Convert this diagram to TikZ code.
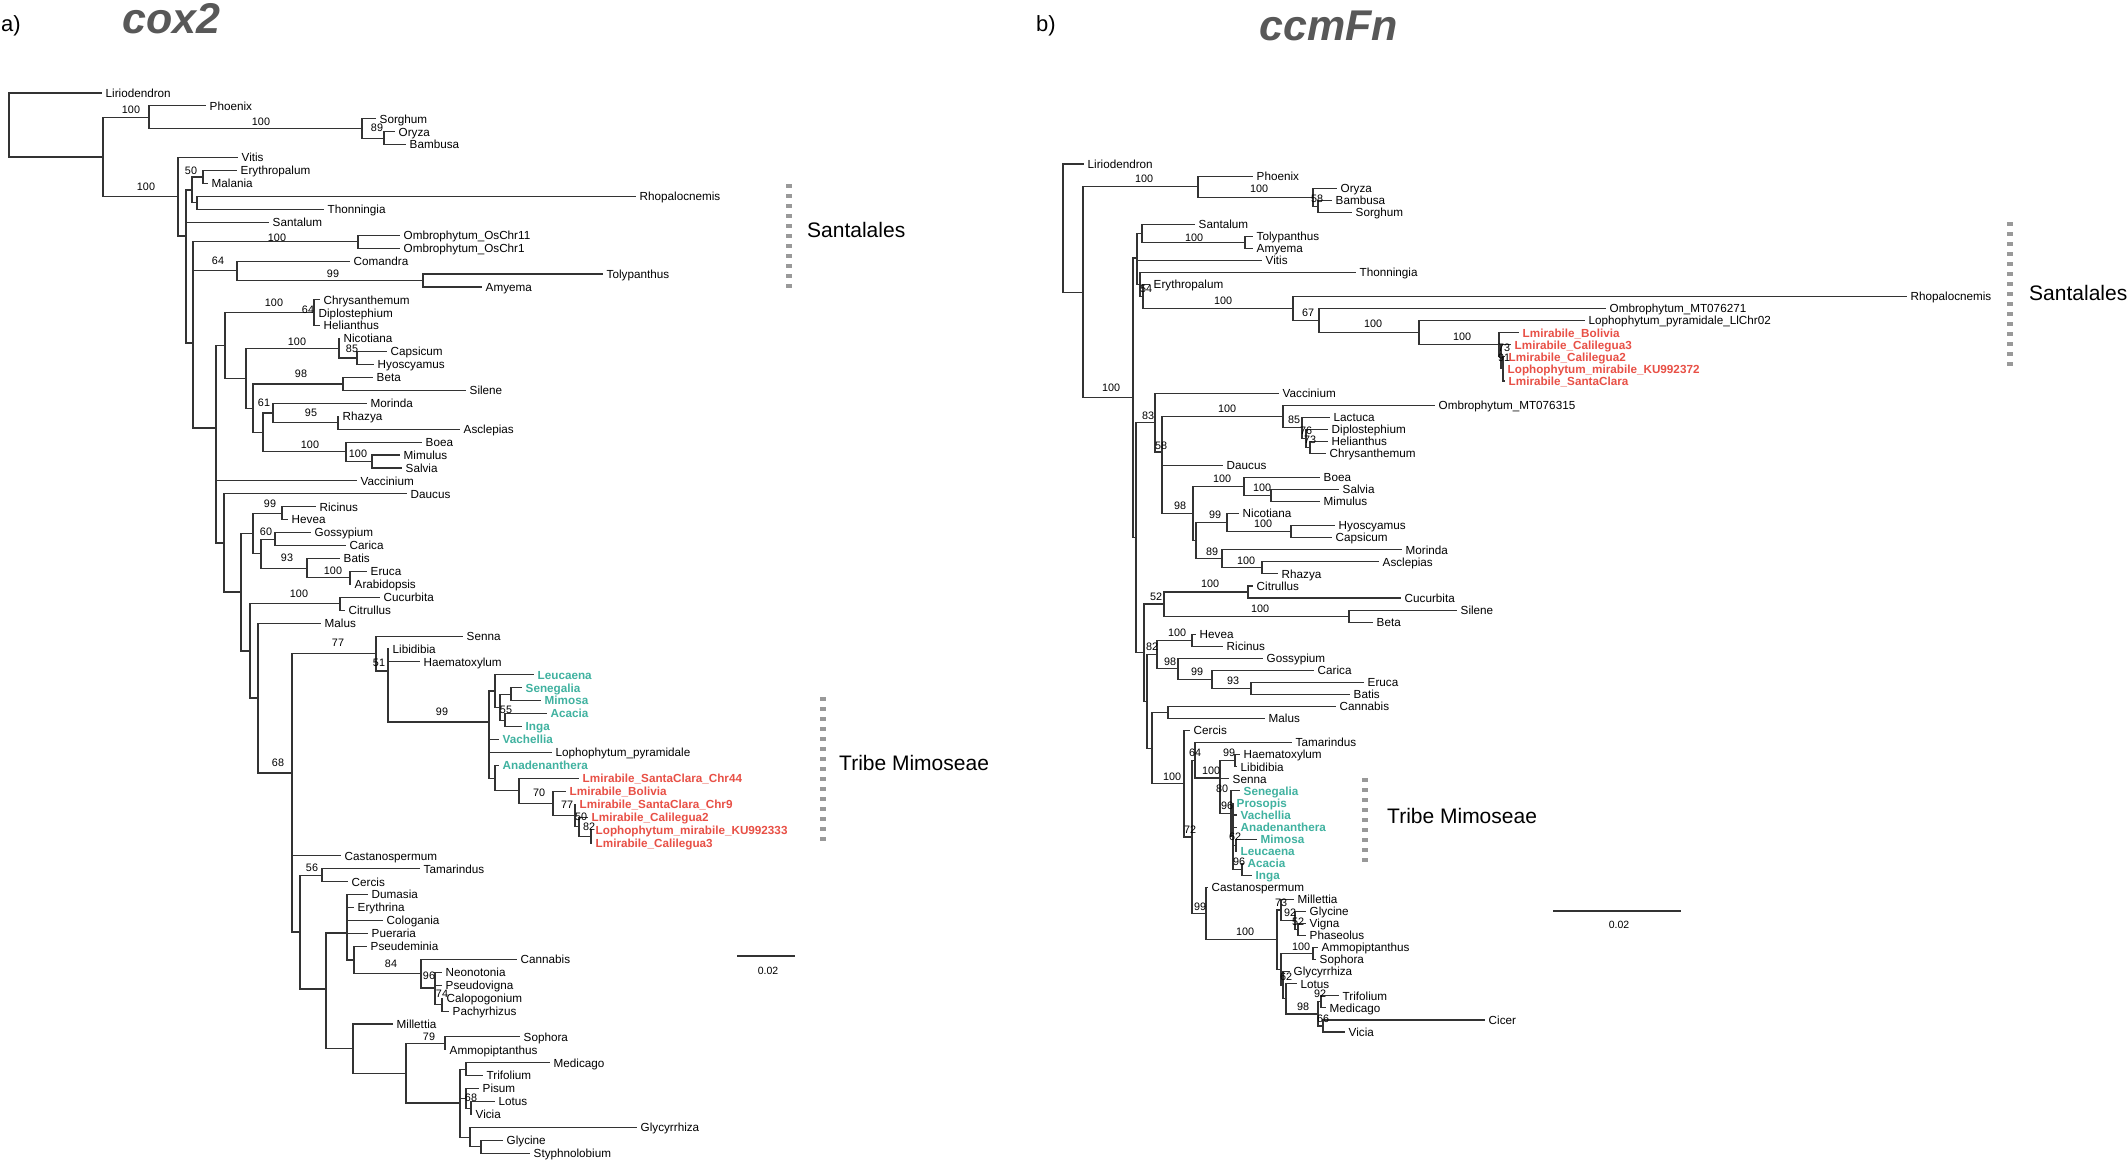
\documentclass[tikz,border=0pt]{standalone}
\usepackage{fontspec}
\setmainfont{Liberation Sans}
\definecolor{mimo}{RGB}{64,178,160}
\definecolor{lmir}{RGB}{232,80,70}
\definecolor{ttl}{RGB}{88,88,88}
\newcommand\tipfont{\fontsize{11.7}{13}\selectfont}
\newcommand\bootfont{\fontsize{10.8}{12}\selectfont}
\newcommand\cladefont{\fontsize{21}{24}\selectfont}
\newcommand\ttlfont{\fontsize{43}{48}\selectfont\bfseries\itshape}
\newcommand\panelfont{\fontsize{22}{24}\selectfont}
\newcommand\sbarfont{\fontsize{10.5}{12}\selectfont}
\begin{document}
\begin{tikzpicture}[x=1pt,y=-1pt,
  br/.style={draw=black!80, line width=1.15pt},
  tip/.style={anchor=west, inner xsep=3.5pt, inner ysep=0pt, text height=8.4pt, text depth=0pt, font=\tipfont},
  tipm/.style={tip, text=mimo, font=\tipfont\bfseries},
  tipr/.style={tip, text=lmir, font=\tipfont\bfseries},
  boot/.style={inner sep=0pt, text height=7.7pt, text depth=0pt, font=\bootfont},
  cladebar/.style={draw=black!40, line width=5.5pt, dash pattern=on 4pt off 6pt},
  cladelab/.style={anchor=west, inner sep=0pt, font=\cladefont},
  ttlnode/.style={anchor=base west, inner sep=0pt, text=ttl, font=\ttlfont},
  panel/.style={anchor=base west, inner sep=0pt, font=\panelfont}]
\fill[white] (0,0) rectangle (2128,1162);
\useasboundingbox (0,0) rectangle (2128,1162);

% ---------- headings ----------
\node[panel] (pa) at (1,31) {a)};
\node[panel] (pb) at (1036,31) {b)};
\node[ttlnode] (t1) at (122,33) {cox2};
\node[ttlnode] (t2) at (1259,40) {ccmFn};

% ================= LEFT TREE (cox2) =================
\coordinate (L0) at (9,125);
\coordinate (LA) at (103,157);
\coordinate (LB) at (149,117.2);
\coordinate (LC) at (362,128.6);
\coordinate (LD) at (384,138.3);
\coordinate (LE) at (178,196.8);
\coordinate (LF) at (186,236);
\coordinate (LI) at (192,190);
\coordinate (LH) at (203,177);
\coordinate (LJ) at (197,202.9);
\coordinate (LG) at (193,343);
\coordinate (LK) at (358,241.7);
\coordinate (LL) at (237,270.8);
\coordinate (LM) at (423,280.5);
\coordinate (LZ) at (216,428);
\coordinate (LO) at (225,345.6);
\coordinate (LN) at (314,312.8);
\coordinate (LP) at (246,378.3);
\coordinate (LQ) at (339,348.4);
\coordinate (LR) at (357,358);
\coordinate (LS) at (253,408.2);
\coordinate (LU) at (343,384);
\coordinate (LT) at (263,432.4);
\coordinate (LV) at (273,413);
\coordinate (LW) at (338,422.8);
\coordinate (LX) at (346,451.8);
\coordinate (LY) at (372,461.5);
\coordinate (LAA) at (224,543);
\coordinate (LAB) at (241,592);
\coordinate (LAC) at (253,533.4);
\coordinate (LAE) at (282,513.2);
\coordinate (LAF) at (261,553.6);
\coordinate (LAG) at (275,539.1);
\coordinate (LAH) at (307,568.2);
\coordinate (LAI) at (350,577.9);
\coordinate (LAD) at (250,651);
\coordinate (LAJ) at (340,603.7);
\coordinate (LAK) at (258,698);
\coordinate (LAL) at (292,773);
\coordinate (LAN) at (376,653.5);
\coordinate (LAO) at (388,671);
\coordinate (LAP) at (489,722);
\coordinate (LAQ) at (495,691);
\coordinate (LAR) at (500,707.2);
\coordinate (LAS) at (511,694.3);
\coordinate (LAT) at (505,720.1);
\coordinate (LAU) at (495,778.1);
\coordinate (LAV) at (519,790.8);
\coordinate (LAW) at (553,803.4);
\coordinate (LAX) at (575,815.5);
\coordinate (LAY) at (579,826.8);
\coordinate (LAZ) at (591,836.5);
\coordinate (LAM) at (300,932);
\coordinate (L56) at (322,875.3);
\coordinate (LAN2) at (326,989);
\coordinate (LAO2) at (347,933);
\coordinate (LPs) at (354,960);
\coordinate (L84) at (421,973.7);
\coordinate (L96) at (435,988);
\coordinate (L74) at (442,1004.6);
\coordinate (LAP2) at (353,1048.6);
\coordinate (LAQ2) at (406,1073.3);
\coordinate (L79) at (445,1043.4);
\coordinate (LAR2) at (460,1103);
\coordinate (LMT) at (466,1069.3);
\coordinate (LPLV) at (466,1098.4);
\coordinate (L68) at (471,1108.1);
\coordinate (LGG) at (470,1137.1);
\coordinate (LGS) at (481,1146.9);

\node[tip] (lir) at (102,93) {Liriodendron};
\node[tip] (phoe) at (206,105.9) {Phoenix};
\node[tip] (sorg) at (376,118.9) {Sorghum};
\node[tip] (oryz) at (395,131.8) {Oryza};
\node[tip] (bamb) at (406,144.7) {Bambusa};
\node[tip] (vitis) at (238,157.6) {Vitis};
\node[tip] (eryth) at (237,170.6) {Erythropalum};
\node[tip] (malan) at (208,183.5) {Malania};
\node[tip] (rhopa) at (636,196.4) {Rhopalocnemis};
\node[tip] (thonn) at (324,209.4) {Thonningia};
\node[tip] (santa) at (269,222.3) {Santalum};
\node[tip] (om11) at (400,235.2) {Ombrophytum\_OsChr11};
\node[tip] (om1) at (400,248.2) {Ombrophytum\_OsChr1};
\node[tip] (coma) at (350,261.1) {Comandra};
\node[tip] (toly) at (603,274) {Tolypanthus};
\node[tip] (amye) at (482,287) {Amyema};
\node[tip] (chry) at (320,299.9) {Chrysanthemum};
\node[tip] (dipl) at (315,312.8) {Diplostephium};
\node[tip] (heli) at (320,325.7) {Helianthus};
\node[tip] (nico) at (340,338.7) {Nicotiana};
\node[tip] (caps) at (387,351.6) {Capsicum};
\node[tip] (hyos) at (374,364.5) {Hyoscyamus};
\node[tip] (beta) at (373,377.5) {Beta};
\node[tip] (sile) at (466,390.4) {Silene};
\node[tip] (mori) at (367,403.3) {Morinda};
\node[tip] (rhaz) at (339,416.3) {Rhazya};
\node[tip] (ascl) at (460,429.2) {Asclepias};
\node[tip] (boea) at (422,442.1) {Boea};
\node[tip] (mimu) at (400,455) {Mimulus};
\node[tip] (salv) at (402,468) {Salvia};
\node[tip] (vacc) at (357,480.9) {Vaccinium};
\node[tip] (dauc) at (407,493.8) {Daucus};
\node[tip] (rici) at (316,506.8) {Ricinus};
\node[tip] (heve) at (288,519.7) {Hevea};
\node[tip] (goss) at (311,532.6) {Gossypium};
\node[tip] (cari) at (346,545.6) {Carica};
\node[tip] (bati) at (340,558.5) {Batis};
\node[tip] (eruc) at (367,571.4) {Eruca};
\node[tip] (arab) at (351,584.3) {Arabidopsis};
\node[tip] (cucu) at (380,597.3) {Cucurbita};
\node[tip] (citr) at (345,610.2) {Citrullus};
\node[tip] (malu) at (321,623.1) {Malus};
\node[tip] (senn) at (463,636.1) {Senna};
\node[tip] (libi) at (389,649) {Libidibia};
\node[tip] (haem) at (420,661.9) {Haematoxylum};
\node[tipm] (leuc) at (534,674.9) {Leucaena};
\node[tipm] (sene) at (522,687.8) {Senegalia};
\node[tipm] (mimo) at (541,700.7) {Mimosa};
\node[tipm] (acac) at (547,713.7) {Acacia};
\node[tipm] (inga) at (522,726.6) {Inga};
\node[tipm] (vach) at (499,739.5) {Vachellia};
\node[tip] (lpyr) at (552,752.4) {Lophophytum\_pyramidale};
\node[tipm] (anad) at (499,765.4) {Anadenanthera};
\node[tipr] (sc44) at (579,778.3) {Lmirabile\_SantaClara\_Chr44};
\node[tipr] (boli) at (566,791.2) {Lmirabile\_Bolivia};
\node[tipr] (chr9) at (576,804.2) {Lmirabile\_SantaClara\_Chr9};
\node[tipr] (cal2) at (588,817.1) {Lmirabile\_Calilegua2};
\node[tipr] (ku33) at (592,830) {Lophophytum\_mirabile\_KU992333};
\node[tipr] (cal3) at (592,843) {Lmirabile\_Calilegua3};
\node[tip] (cast) at (341,855.9) {Castanospermum};
\node[tip] (tama) at (420,868.8) {Tamarindus};
\node[tip] (cerc) at (348,881.8) {Cercis};
\node[tip] (duma) at (368,894.7) {Dumasia};
\node[tip] (eryt) at (354,907.6) {Erythrina};
\node[tip] (colo) at (383,920.5) {Cologania};
\node[tip] (puer) at (368,933.5) {Pueraria};
\node[tip] (pseu) at (367,946.4) {Pseudeminia};
\node[tip] (cann) at (517,959.3) {Cannabis};
\node[tip] (neon) at (442,972.3) {Neonotonia};
\node[tip] (pvig) at (442,985.2) {Pseudovigna};
\node[tip] (calo) at (443,998.1) {Calopogonium};
\node[tip] (pach) at (449,1011.1) {Pachyrhizus};
\node[tip] (mill) at (393,1024) {Millettia};
\node[tip] (soph) at (520,1036.9) {Sophora};
\node[tip] (ammo) at (446,1049.9) {Ammopiptanthus};
\node[tip] (medi) at (550,1062.8) {Medicago};
\node[tip] (trif) at (483,1075.7) {Trifolium};
\node[tip] (pisu) at (479,1088.6) {Pisum};
\node[tip] (lotu) at (495,1101.6) {Lotus};
\node[tip] (vici) at (472,1114.5) {Vicia};
\node[tip] (glyc) at (637,1127.4) {Glycyrrhiza};
\node[tip] (glyn) at (503,1140.4) {Glycine};
\node[tip] (styp) at (530,1153.3) {Styphnolobium};

\draw[br]
 (L0) |- (lir.west) (L0) |- (LA)
 (LA) |- (LB) (LA) |- (LE)
 (LB) |- (phoe.west) (LB) |- (LC)
 (LC) |- (sorg.west) (LC) |- (LD)
 (LD) |- (oryz.west) (LD) |- (bamb.west)
 (LE) |- (vitis.west) (LE) |- (LF)
 (LF) |- (LI) (LF) |- (santa.west) (LF) |- (LG)
 (LI) |- (LH) (LI) |- (LJ)
 (LH) |- (eryth.west) (LH) |- (malan.west)
 (LJ) |- (rhopa.west) (LJ) |- (thonn.west)
 (LG) |- (LK) (LG) |- (LL) (LG) |- (LZ)
 (LK) |- (om11.west) (LK) |- (om1.west)
 (LL) |- (coma.west) (LL) |- (LM)
 (LM) |- (toly.west) (LM) |- (amye.west)
 (LZ) |- (LO) (LZ) |- (vacc.west) (LZ) |- (LAA)
 (LO) |- (LN) (LO) |- (LP)
 (LN) |- (chry.west) (LN) |- (dipl.west) (LN) |- (heli.west)
 (LP) |- (LQ) (LP) |- (LS)
 (LQ) |- (nico.west) (LQ) |- (LR)
 (LR) |- (caps.west) (LR) |- (hyos.west)
 (LS) |- (LU) (LS) |- (LT)
 (LU) |- (beta.west) (LU) |- (sile.west)
 (LT) |- (LV) (LT) |- (LX)
 (LV) |- (mori.west) (LV) |- (LW)
 (LW) |- (rhaz.west) (LW) |- (ascl.west)
 (LX) |- (boea.west) (LX) |- (LY)
 (LY) |- (mimu.west) (LY) |- (salv.west)
 (LAA) |- (dauc.west) (LAA) |- (LAB)
 (LAB) |- (LAC) (LAB) |- (LAD)
 (LAC) |- (LAE) (LAC) |- (LAF)
 (LAE) |- (rici.west) (LAE) |- (heve.west)
 (LAF) |- (LAG) (LAF) |- (LAH)
 (LAG) |- (goss.west) (LAG) |- (cari.west)
 (LAH) |- (bati.west) (LAH) |- (LAI)
 (LAI) |- (eruc.west) (LAI) |- (arab.west)
 (LAD) |- (LAJ) (LAD) |- (LAK)
 (LAJ) |- (cucu.west) (LAJ) |- (citr.west)
 (LAK) |- (malu.west) (LAK) |- (LAL)
 (LAL) |- (LAN) (LAL) |- (cast.west) (LAL) |- (LAM)
 (LAN) |- (senn.west) (LAN) |- (LAO)
 (LAO) |- (libi.west) (LAO) |- (haem.west) (LAO) |- (LAP)
 (LAP) |- (LAQ) (LAP) |- (vach.west) (LAP) |- (lpyr.west) (LAP) |- (LAU)
 (LAQ) |- (leuc.west) (LAQ) |- (LAR)
 (LAR) |- (LAS) (LAR) |- (LAT)
 (LAS) |- (sene.west) (LAS) |- (mimo.west)
 (LAT) |- (acac.west) (LAT) |- (inga.west)
 (LAU) |- (anad.west) (LAU) |- (LAV)
 (LAV) |- (sc44.west) (LAV) |- (LAW)
 (LAW) |- (boli.west) (LAW) |- (LAX)
 (LAX) |- (chr9.west) (LAX) |- (LAY)
 (LAY) |- (cal2.west) (LAY) |- (LAZ)
 (LAZ) |- (ku33.west) (LAZ) |- (cal3.west)
 (LAM) |- (L56) (LAM) |- (LAN2)
 (L56) |- (tama.west) (L56) |- (cerc.west)
 (LAN2) |- (LAO2) (LAN2) |- (LAP2)
 (LAO2) |- (duma.west) (LAO2) |- (eryt.west) (LAO2) |- (colo.west) (LAO2) |- (puer.west) (LAO2) |- (LPs)
 (LPs) |- (pseu.west) (LPs) |- (L84)
 (L84) |- (cann.west) (L84) |- (L96)
 (L96) |- (neon.west) (L96) |- (pvig.west) (L96) |- (L74)
 (L74) |- (calo.west) (L74) |- (pach.west)
 (LAP2) |- (mill.west) (LAP2) |- (LAQ2)
 (LAQ2) |- (L79) (LAQ2) |- (LAR2)
 (L79) |- (soph.west) (L79) |- (ammo.west)
 (LAR2) |- (LMT) (LAR2) |- (LPLV) (LAR2) |- (LGG)
 (LMT) |- (medi.west) (LMT) |- (trif.west)
 (LPLV) |- (pisu.west) (LPLV) |- (L68)
 (L68) |- (lotu.west) (L68) |- (vici.west)
 (LGG) |- (glyc.west) (LGG) |- (LGS)
 (LGS) |- (glyn.west) (LGS) |- (styp.west);

\foreach \bx/\by/\bt [count=\bi] in {131/110/100, 261/122/100, 377/128/89, 146/187/100, 191/171/50,
  277/238/100, 218/261/64, 333/274/99, 274/303/100, 308/310/64, 297/342/100, 352/349/85, 301/374/98,
  264/403/61, 311/413/95, 310/445/100, 358/454/100, 270/504/99, 266/532/60, 287/558/93, 333/571/100,
  299/594/100, 338/643/77, 379/663/51, 442/712/99, 506/710/55, 278/763/68, 539/793/70, 567/805/77,
  581/817/50, 589/827/82, 312/868/56, 391/964/84, 429/976/96, 442/994/74, 429/1037/79, 471/1098/68}
  \node[boot] (bl\bi) at (\bx,\by) {\bt};

\draw[cladebar] (789,184) -- (789,289);
\node[cladelab] (cl1) at (807,230) {Santalales};
\draw[cladebar] (823,697) -- (823,845);
\node[cladelab] (cl2) at (839,763) {Tribe Mimoseae};
\coordinate (sbl1) at (737,956);
\coordinate (sbl2) at (795,956);
\draw[br] (sbl1) -- (sbl2);
\node[inner sep=0pt, font=\sbarfont] (sbt1) at (768,971) {0.02};

% ================= RIGHT TREE (ccmFn) =================
\coordinate (R0) at (1063,228);
\coordinate (RA) at (1083,292.3);
\coordinate (RB) at (1198,186.6);
\coordinate (RC) at (1313,197.2);
\coordinate (RD) at (1318,206.2);
\coordinate (RE) at (1133,397.9);
\coordinate (RS) at (1137,258);
\coordinate (S1) at (1142,233.3);
\coordinate (RTA) at (1245,242.4);
\coordinate (S2) at (1140,284.6);
\coordinate (E54) at (1143,296.6);
\coordinate (RG) at (1293,308.7);
\coordinate (RH) at (1319,320.7);
\coordinate (RI) at (1419,332.8);
\coordinate (RJ) at (1499,344.8);
\coordinate (RJ2) at (1501,356.9);
\coordinate (RJ3) at (1503,368.9);
\coordinate (RF) at (1136,537.7);
\coordinate (R83) at (1155,422.6);
\coordinate (R58) at (1162,452);
\coordinate (RL) at (1283,416.4);
\coordinate (RM) at (1302,427.7);
\coordinate (RM2) at (1306,438.3);
\coordinate (RM3) at (1310,447.3);
\coordinate (R98) at (1193,513.7);
\coordinate (RN) at (1244,486.5);
\coordinate (RO) at (1271,495.6);
\coordinate (RP) at (1196,540.8);
\coordinate (RQ) at (1227,522.7);
\coordinate (RR) at (1291,531.7);
\coordinate (RS2) at (1222,558.8);
\coordinate (RT) at (1262,567.9);
\coordinate (RU) at (1144,652.7);
\coordinate (R52) at (1164,604);
\coordinate (RCC) at (1248,592);
\coordinate (RSB) at (1349,616.1);
\coordinate (RU2) at (1147,701.4);
\coordinate (R82) at (1157,654.5);
\coordinate (RHR) at (1192,640.2);
\coordinate (R98b) at (1178,668.8);
\coordinate (R99) at (1212,679.4);
\coordinate (R93) at (1251,688.4);
\coordinate (RV) at (1152,748.2);
\coordinate (RCM) at (1168,712.6);
\coordinate (RW) at (1184,783.8);
\coordinate (RX) at (1192,837);
\coordinate (R64) at (1195,760.4);
\coordinate (R100) at (1220,778);
\coordinate (RHL) at (1235,760.8);
\coordinate (R80) at (1231,813.5);
\coordinate (R96a) at (1233,836);
\coordinate (R62) at (1236,845.1);
\coordinate (R96) at (1242,869.3);
\coordinate (R99b) at (1206,913.5);
\coordinate (R100b) at (1277,939.8);
\coordinate (R73) at (1281,910);
\coordinate (R92) at (1295,920.5);
\coordinate (R52b) at (1298,929.6);
\coordinate (RB2) at (1281,969.5);
\coordinate (RAS) at (1313,953.7);
\coordinate (R62b) at (1283,985.3);
\coordinate (RLX) at (1286,998.9);
\coordinate (R98c) at (1318,1014);
\coordinate (RTM) at (1321,1001.9);
\coordinate (RCV) at (1323,1026);

\node[tip] (rlir) at (1084,164) {Liriodendron};
\node[tip] (rphoe) at (1253,176.1) {Phoenix};
\node[tip] (roryz) at (1337,188.1) {Oryza};
\node[tip] (rbamb) at (1332,200.2) {Bambusa};
\node[tip] (rsorg) at (1352,212.2) {Sorghum};
\node[tip] (rsant) at (1195,224.3) {Santalum};
\node[tip] (rtoly) at (1253,236.3) {Tolypanthus};
\node[tip] (ramye) at (1253,248.4) {Amyema};
\node[tip] (rvitis) at (1262,260.4) {Vitis};
\node[tip] (rthon) at (1356,272.5) {Thonningia};
\node[tip] (rery) at (1150,284.6) {Erythropalum};
\node[tip] (rrhop) at (1907,296.6) {Rhopalocnemis};
\node[tip] (rom271) at (1606,308.7) {Ombrophytum\_MT076271};
\node[tip] (rlpyr) at (1585,320.7) {Lophophytum\_pyramidale\_LlChr02};
\node[tipr] (rboli) at (1519,332.8) {Lmirabile\_Bolivia};
\node[tipr] (rcal3) at (1511,344.8) {Lmirabile\_Calilegua3};
\node[tipr] (rcal2) at (1505,356.9) {Lmirabile\_Calilegua2};
\node[tipr] (rku) at (1504,368.9) {Lophophytum\_mirabile\_KU992372};
\node[tipr] (rsc) at (1505,381) {Lmirabile\_SantaClara};
\node[tip] (rvacc) at (1279,393.1) {Vaccinium};
\node[tip] (rom315) at (1435,405.1) {Ombrophytum\_MT076315};
\node[tip] (rlact) at (1330,417.2) {Lactuca};
\node[tip] (rdipl) at (1328,429.2) {Diplostephium};
\node[tip] (rheli) at (1328,441.3) {Helianthus};
\node[tip] (rchry) at (1326,453.3) {Chrysanthemum};
\node[tip] (rdauc) at (1223,465.4) {Daucus};
\node[tip] (rboea) at (1320,477.5) {Boea};
\node[tip] (rsalv) at (1339,489.5) {Salvia};
\node[tip] (rmimu) at (1320,501.6) {Mimulus};
\node[tip] (rnico) at (1239,513.6) {Nicotiana};
\node[tip] (rhyos) at (1335,525.7) {Hyoscyamus};
\node[tip] (rcaps) at (1332,537.7) {Capsicum};
\node[tip] (rmori) at (1402,549.8) {Morinda};
\node[tip] (rascl) at (1379,561.8) {Asclepias};
\node[tip] (rrhaz) at (1278,573.9) {Rhazya};
\node[tip] (rcitr) at (1253,586) {Citrullus};
\node[tip] (rcucu) at (1401,598) {Cucurbita};
\node[tip] (rsile) at (1457,610.1) {Silene};
\node[tip] (rbeta) at (1373,622.1) {Beta};
\node[tip] (rheve) at (1196,634.2) {Hevea};
\node[tip] (rrici) at (1223,646.2) {Ricinus};
\node[tip] (rgoss) at (1263,658.3) {Gossypium};
\node[tip] (rcari) at (1314,670.3) {Carica};
\node[tip] (reruc) at (1364,682.4) {Eruca};
\node[tip] (rbati) at (1350,694.5) {Batis};
\node[tip] (rcann) at (1336,706.5) {Cannabis};
\node[tip] (rmalu) at (1265,718.6) {Malus};
\node[tip] (rcerc) at (1190,730.6) {Cercis};
\node[tip] (rtama) at (1292,742.7) {Tamarindus};
\node[tip] (rhaem) at (1240,754.7) {Haematoxylum};
\node[tip] (rlibi) at (1237,766.8) {Libidibia};
\node[tip] (rsenn) at (1229,778.8) {Senna};
\node[tipm] (rsene) at (1240,790.9) {Senegalia};
\node[tipm] (rpros) at (1233,803) {Prosopis};
\node[tipm] (rvach) at (1237,815) {Vachellia};
\node[tipm] (ranad) at (1237,827.1) {Anadenanthera};
\node[tipm] (rmimo) at (1257,839.1) {Mimosa};
\node[tipm] (rleuc) at (1237,851.2) {Leucaena};
\node[tipm] (racac) at (1244,863.2) {Acacia};
\node[tipm] (ringa) at (1252,875.3) {Inga};
\node[tip] (rcast) at (1208,887.3) {Castanospermum};
\node[tip] (rmill) at (1294,899.4) {Millettia};
\node[tip] (rglyc) at (1306,911.5) {Glycine};
\node[tip] (rvign) at (1306,923.5) {Vigna};
\node[tip] (rphas) at (1306,935.6) {Phaseolus};
\node[tip] (rammo) at (1318,947.6) {Ammopiptanthus};
\node[tip] (rsoph) at (1316,959.7) {Sophora};
\node[tip] (rglyz) at (1290,971.7) {Glycyrrhiza};
\node[tip] (rlotu) at (1297,983.8) {Lotus};
\node[tip] (rtrif) at (1339,995.8) {Trifolium};
\node[tip] (rmedi) at (1326,1007.9) {Medicago};
\node[tip] (rcice) at (1485,1020) {Cicer};
\node[tip] (rvici) at (1345,1032) {Vicia};

\draw[br]
 (R0) |- (rlir.west) (R0) |- (RA)
 (RA) |- (RB) (RA) |- (RE)
 (RB) |- (rphoe.west) (RB) |- (RC)
 (RC) |- (roryz.west) (RC) |- (RD)
 (RD) |- (rbamb.west) (RD) |- (rsorg.west)
 (RE) |- (RS) (RE) |- (RF)
 (RS) |- (S1) (RS) |- (rvitis.west) (RS) |- (S2)
 (S1) |- (rsant.west) (S1) |- (RTA)
 (RTA) |- (rtoly.west) (RTA) |- (ramye.west)
 (S2) |- (rthon.west) (S2) |- (E54)
 (E54) |- (rery.west) (E54) |- (RG)
 (RG) |- (rrhop.west) (RG) |- (RH)
 (RH) |- (rom271.west) (RH) |- (RI)
 (RI) |- (rlpyr.west) (RI) |- (RJ)
 (RJ) |- (rboli.west) (RJ) |- (RJ2)
 (RJ2) |- (rcal3.west) (RJ2) |- (RJ3)
 (RJ3) |- (rcal2.west) (RJ3) |- (rku.west) (RJ3) |- (rsc.west)
 (RF) |- (R83) (RF) |- (RU)
 (R83) |- (rvacc.west) (R83) |- (R58)
 (R58) |- (RL) (R58) |- (rdauc.west) (R58) |- (R98)
 (RL) |- (rom315.west) (RL) |- (RM)
 (RM) |- (rlact.west) (RM) |- (RM2)
 (RM2) |- (rdipl.west) (RM2) |- (RM3)
 (RM3) |- (rheli.west) (RM3) |- (rchry.west)
 (R98) |- (RN) (R98) |- (RP)
 (RN) |- (rboea.west) (RN) |- (RO)
 (RO) |- (rsalv.west) (RO) |- (rmimu.west)
 (RP) |- (RQ) (RP) |- (RS2)
 (RQ) |- (rnico.west) (RQ) |- (RR)
 (RR) |- (rhyos.west) (RR) |- (rcaps.west)
 (RS2) |- (rmori.west) (RS2) |- (RT)
 (RT) |- (rascl.west) (RT) |- (rrhaz.west)
 (RU) |- (R52) (RU) |- (RU2)
 (R52) |- (RCC) (R52) |- (RSB)
 (RCC) |- (rcitr.west) (RCC) |- (rcucu.west)
 (RSB) |- (rsile.west) (RSB) |- (rbeta.west)
 (RU2) |- (R82) (RU2) |- (RV)
 (R82) |- (RHR) (R82) |- (R98b)
 (RHR) |- (rheve.west) (RHR) |- (rrici.west)
 (R98b) |- (rgoss.west) (R98b) |- (R99)
 (R99) |- (rcari.west) (R99) |- (R93)
 (R93) |- (reruc.west) (R93) |- (rbati.west)
 (RV) |- (RCM) (RV) |- (RW)
 (RCM) |- (rcann.west) (RCM) |- (rmalu.west)
 (RW) |- (rcerc.west) (RW) |- (RX)
 (RX) |- (R64) (RX) |- (R99b)
 (R64) |- (rtama.west) (R64) |- (R100)
 (R100) |- (RHL) (R100) |- (rsenn.west) (R100) |- (R80)
 (RHL) |- (rhaem.west) (RHL) |- (rlibi.west)
 (R80) |- (rsene.west) (R80) |- (R96a)
 (R96a) |- (rpros.west) (R96a) |- (rvach.west) (R96a) |- (ranad.west) (R96a) |- (R62) (R96a) |- (R96)
 (R62) |- (rmimo.west) (R62) |- (rleuc.west)
 (R96) |- (racac.west) (R96) |- (ringa.west)
 (R99b) |- (rcast.west) (R99b) |- (R100b)
 (R100b) |- (R73) (R100b) |- (RB2)
 (R73) |- (rmill.west) (R73) |- (R92)
 (R92) |- (rglyc.west) (R92) |- (R52b)
 (R52b) |- (rvign.west) (R52b) |- (rphas.west)
 (RB2) |- (RAS) (RB2) |- (R62b)
 (RAS) |- (rammo.west) (RAS) |- (rsoph.west)
 (R62b) |- (rglyz.west) (R62b) |- (RLX)
 (RLX) |- (rlotu.west) (RLX) |- (R98c)
 (R98c) |- (RTM) (R98c) |- (RCV)
 (RTM) |- (rtrif.west) (RTM) |- (rmedi.west)
 (RCV) |- (rcice.west) (RCV) |- (rvici.west);

\foreach \bx/\by/\bt [count=\bi] in {1144/179/100, 1259/189/100, 1317/199/58, 1111/388/100, 1194/238/100,
  1146/289/54, 1223/301/100, 1308/313/67, 1373/324/100, 1462/337/100, 1504/348/73, 1504/358/91,
  1148/416/83, 1161/446/58, 1227/409/100, 1294/420/85, 1306/431/76, 1310/440/73, 1180/506/98,
  1222/479/100, 1262/488/100, 1215/515/99, 1263/524/100, 1212/552/89, 1246/561/100, 1156/597/52,
  1210/584/100, 1260/609/100, 1152/647/82, 1177/633/100, 1170/662/98, 1197/672/99, 1233/681/93,
  1172/777/100, 1190/830/72, 1195/753/64, 1229/753/99, 1211/771/100, 1222/789/80, 1227/806/96,
  1235/837/62, 1239/862/96, 1200/907/99, 1245/932/100, 1281/903/73, 1290/913/92, 1298/922/52,
  1301/947/100, 1286/977/62, 1303/1007/98, 1320/994/92, 1323/1019/66}
  \node[boot] (br\bi) at (\bx,\by) {\bt};

\draw[cladebar] (2010,222) -- (2010,368);
\node[cladelab] (cl3) at (2029,293) {Santalales};
\draw[cladebar] (1365,778) -- (1365,864);
\node[cladelab] (cl4) at (1387,816) {Tribe Mimoseae};
\coordinate (sbr1) at (1553,911);
\coordinate (sbr2) at (1681,911);
\draw[br] (sbr1) -- (sbr2);
\node[inner sep=0pt, font=\sbarfont] (sbt2) at (1619,925) {0.02};
\end{tikzpicture}
\end{document}
